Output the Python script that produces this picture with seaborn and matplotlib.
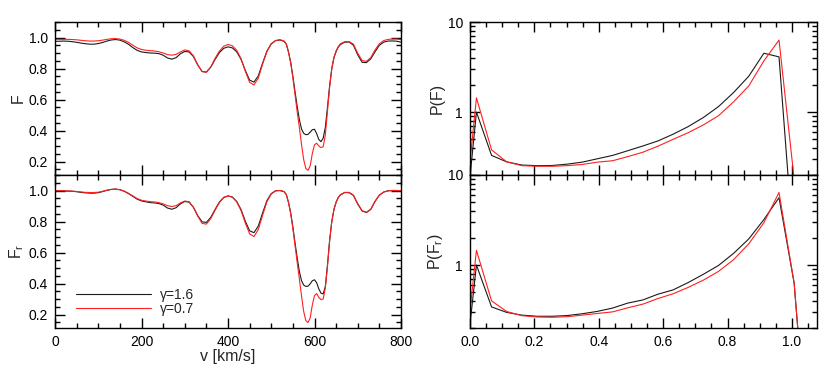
import numpy as np
import matplotlib
matplotlib.use('Agg')
import matplotlib.pyplot as plt
import seaborn as sns
from matplotlib.ticker import MultipleLocator, FuncFormatter, NullFormatter, LogLocator

# velocity grid (finer through the deep trough)
v = np.r_[np.arange(0, 530, 10), np.arange(530, 661, 5), np.arange(670, 801, 10)]

# flux, top panel
F_g16 = [0.975, 0.976, 0.977, 0.976, 0.973, 0.969, 0.964, 0.960, 0.957, 0.957,
         0.961, 0.968, 0.977, 0.984, 0.987, 0.983, 0.972, 0.956, 0.935, 0.917,
         0.907, 0.903, 0.900, 0.899, 0.896, 0.886, 0.868, 0.860, 0.870, 0.895,
         0.910, 0.907, 0.877, 0.823, 0.781, 0.777, 0.808, 0.858, 0.902, 0.930,
         0.940, 0.933, 0.908, 0.860, 0.788, 0.725, 0.712, 0.752, 0.835, 0.912,
         0.960, 0.980, 0.984,
         0.975, 0.955, 0.905, 0.840, 0.750, 0.650, 0.555, 0.470, 0.410, 0.382,
         0.373, 0.375, 0.390, 0.405, 0.408, 0.380, 0.342, 0.328, 0.350, 0.420,
         0.550, 0.690, 0.800, 0.870, 0.910, 0.938, 0.955,
         0.970, 0.971, 0.950, 0.888, 0.840, 0.838, 0.862, 0.908, 0.950, 0.970,
         0.977, 0.978, 0.976, 0.970]
F_g07 = [0.988, 0.988, 0.988, 0.988, 0.987, 0.985, 0.982, 0.979, 0.977, 0.977,
         0.979, 0.983, 0.988, 0.992, 0.993, 0.990, 0.982, 0.968, 0.950, 0.933,
         0.923, 0.918, 0.915, 0.913, 0.908, 0.900, 0.890, 0.886, 0.891, 0.907,
         0.920, 0.914, 0.882, 0.824, 0.780, 0.776, 0.810, 0.865, 0.912, 0.943,
         0.955, 0.947, 0.918, 0.865, 0.783, 0.710, 0.694, 0.737, 0.828, 0.910,
         0.958, 0.980, 0.986,
         0.977, 0.957, 0.905, 0.835, 0.740, 0.630, 0.520, 0.420, 0.310, 0.212,
         0.155, 0.143, 0.172, 0.252, 0.308, 0.318, 0.300, 0.290, 0.295, 0.370,
         0.525, 0.680, 0.800, 0.872, 0.914, 0.942, 0.960,
         0.973, 0.974, 0.957, 0.898, 0.852, 0.846, 0.870, 0.920, 0.960, 0.980,
         0.988, 0.990, 0.990, 0.986]

# flux, bottom panel
Fr_g16 = [0.998, 0.998, 0.997, 0.996, 0.995, 0.992, 0.988, 0.985, 0.983, 0.983,
          0.986, 0.993, 1.001, 1.007, 1.009, 1.005, 0.995, 0.980, 0.962, 0.944,
          0.933, 0.927, 0.922, 0.920, 0.916, 0.906, 0.887, 0.879, 0.889, 0.914,
          0.929, 0.925, 0.892, 0.838, 0.798, 0.794, 0.826, 0.877, 0.925, 0.955,
          0.965, 0.958, 0.930, 0.878, 0.802, 0.740, 0.728, 0.770, 0.855, 0.935,
          0.980, 0.998, 1.000,
          0.992, 0.972, 0.922, 0.855, 0.765, 0.662, 0.565, 0.478, 0.418, 0.390,
          0.381, 0.383, 0.398, 0.418, 0.424, 0.405, 0.365, 0.338, 0.333, 0.380,
          0.520, 0.680, 0.800, 0.878, 0.925, 0.955, 0.972,
          0.987, 0.986, 0.968, 0.912, 0.868, 0.858, 0.878, 0.930, 0.970, 0.990,
          0.998, 1.000, 1.000, 0.999]
Fr_g07 = [0.998, 0.999, 0.998, 0.997, 0.996, 0.994, 0.991, 0.988, 0.987, 0.987,
          0.989, 0.995, 1.002, 1.007, 1.009, 1.005, 0.996, 0.982, 0.965, 0.948,
          0.937, 0.932, 0.928, 0.926, 0.922, 0.914, 0.902, 0.897, 0.902, 0.920,
          0.932, 0.928, 0.892, 0.835, 0.788, 0.783, 0.818, 0.872, 0.922, 0.955,
          0.965, 0.957, 0.927, 0.872, 0.790, 0.720, 0.703, 0.748, 0.840, 0.928,
          0.978, 0.998, 1.000,
          0.993, 0.973, 0.922, 0.850, 0.755, 0.645, 0.535, 0.430, 0.320, 0.220,
          0.160, 0.148, 0.178, 0.262, 0.322, 0.335, 0.310, 0.296, 0.300, 0.370,
          0.510, 0.675, 0.800, 0.878, 0.925, 0.956, 0.973,
          0.988, 0.988, 0.970, 0.915, 0.870, 0.860, 0.878, 0.930, 0.970, 0.990,
          0.998, 1.000, 1.000, 0.999]

# flux probability distributions
f_bins = [0.0, 0.020, 0.067, 0.114, 0.161, 0.208, 0.255, 0.302, 0.349, 0.396,
          0.443, 0.490, 0.537, 0.584, 0.631, 0.678, 0.725, 0.772, 0.819, 0.866,
          0.913, 0.960, 1.007, 1.054]
PF_g16 = [0.19, 1.0, 0.33, 0.28, 0.258, 0.254, 0.255, 0.264, 0.278, 0.303,
          0.330, 0.372, 0.420, 0.478, 0.568, 0.690, 0.870, 1.15, 1.65, 2.5,
          4.5, 4.1, 0.025, 0.001]
PF_g07 = [0.28, 1.44, 0.38, 0.28, 0.254, 0.250, 0.250, 0.254, 0.262, 0.278,
          0.288, 0.320, 0.358, 0.418, 0.498, 0.590, 0.720, 0.910, 1.30, 1.95,
          3.7, 6.3, 0.18, 0.001]
PFr_g16 = [0.22, 1.0, 0.343, 0.298, 0.278, 0.270, 0.270, 0.275, 0.288, 0.306,
           0.333, 0.378, 0.410, 0.475, 0.530, 0.640, 0.790, 0.990, 1.35, 1.95,
           3.2, 5.6, 0.63, 0.005]
PFr_g07 = [0.31, 1.46, 0.40, 0.305, 0.274, 0.265, 0.263, 0.267, 0.278, 0.290,
           0.302, 0.335, 0.368, 0.425, 0.480, 0.565, 0.680, 0.850, 1.15, 1.72,
           2.95, 6.4, 0.63, 0.005]

labels = ['γ=1.6', 'γ=0.7']
colors = ['#1a1a1a', '#ff2020']
FS = 10
LFS = 11.5

sns.set_theme(style="ticks")
plt.rcParams['font.family'] = ['Liberation Sans', 'DejaVu Sans']
plt.rcParams['mathtext.fontset'] = 'custom'
plt.rcParams['mathtext.rm'] = 'Liberation Sans'
plt.rcParams['mathtext.it'] = 'Liberation Sans'

W, H = 830, 374
fig = plt.figure(figsize=(W / 100, H / 100), dpi=100)

def add_ax(x0, y0, x1, y1):
    return fig.add_axes([x0 / W, 1 - y1 / H, (x1 - x0) / W, (y1 - y0) / H])

ax_f = add_ax(55, 22, 401, 175)
ax_fr = add_ax(55, 175, 401, 328)
ax_p = add_ax(470, 22, 817, 175)
ax_pr = add_ax(470, 175, 817, 328)

def style(ax):
    ax.tick_params(which='both', direction='in', top=True, right=True,
                   bottom=True, left=True, color='black', labelcolor='black',
                   labelsize=FS, width=1.0)
    ax.tick_params(which='major', length=7, pad=5)
    ax.tick_params(which='minor', length=3.5)
    for s in ax.spines.values():
        s.set_color('black')
        s.set_linewidth(1.0)

for ax, ys, yl in [(ax_f, (F_g16, F_g07), 'F'), (ax_fr, (Fr_g16, Fr_g07), 'F$_\\mathrm{r}$')]:
    for y, lab, c in zip(ys, labels, colors):
        sns.lineplot(x=v, y=y, color=c, lw=0.8, label=lab, ax=ax, sort=False)
    ax.set_xlim(0, 800)
    ax.set_ylim(0.113, 1.1)
    ax.xaxis.set_major_locator(MultipleLocator(200))
    ax.xaxis.set_minor_locator(MultipleLocator(50))
    ax.yaxis.set_major_locator(MultipleLocator(0.2))
    ax.yaxis.set_minor_locator(MultipleLocator(0.05))
    ax.yaxis.set_major_formatter(FuncFormatter(lambda y, p: f'{y:.1f}'))
    ax.set_ylabel(yl, fontsize=LFS, labelpad=2)
    style(ax)

ax_f.legend().remove()
ax_f.set_xticklabels([])
ax_f.set_xlabel('')
ax_fr.set_xlabel('v [km/s]', fontsize=LFS, labelpad=0)
ax_fr.legend(loc='lower left', bbox_to_anchor=(0.045, 0.045), frameon=False,
             handlelength=5.4, handletextpad=0.6, labelspacing=0.0,
             fontsize=FS, borderaxespad=0)

for ax, ys, yl in [(ax_p, (PF_g16, PF_g07), 'P(F)'), (ax_pr, (PFr_g16, PFr_g07), 'P(F$_\\mathrm{r}$)')]:
    for y, lab, c in zip(ys, labels, colors):
        sns.lineplot(x=f_bins, y=y, color=c, lw=0.8, ax=ax, sort=False)
    ax.set_yscale('log')
    ax.set_xlim(0, 1.078)
    ax.set_ylim(0.2, 10)
    ax.xaxis.set_major_locator(MultipleLocator(0.2))
    ax.xaxis.set_minor_locator(MultipleLocator(0.05))
    ax.xaxis.set_major_formatter(FuncFormatter(lambda x, p: f'{x:.1f}'))
    ax.yaxis.set_major_locator(LogLocator(base=10))
    ax.yaxis.set_minor_locator(LogLocator(base=10, subs=np.arange(2, 10)))
    ax.yaxis.set_major_formatter(FuncFormatter(lambda y, p: f'{y:g}'))
    ax.yaxis.set_minor_formatter(NullFormatter())
    ax.set_ylabel(yl, fontsize=LFS, labelpad=2)
    style(ax)

ax_p.set_xticklabels([])
ax_p.set_xlabel('')
ax_pr.set_xlabel('')

fig.savefig('out.png', dpi=100)
